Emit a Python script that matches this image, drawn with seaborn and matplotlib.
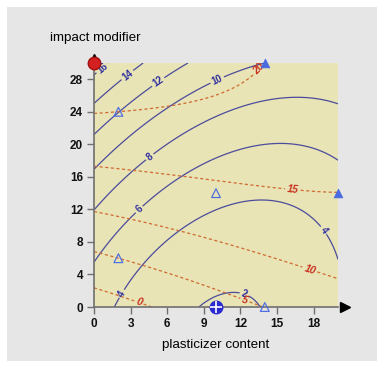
import numpy as np
import matplotlib
matplotlib.use("Agg")
import matplotlib.pyplot as plt
import seaborn as sns

solid_lvl = [16, 16,
             14, 14, 14,
             12, 12, 12, 12,
             10, 10, 10, 10, 10,
             8, 8, 8, 8, 8, 8, 8,
             6, 6, 6, 6, 6, 6, 6,
             4, 4, 4, 4, 4, 4, 4, 4,
             2, 2, 2]
solid_x = [0, 1.4,
           0, 2.8, 4.0,
           0, 2.0, 5.2, 7.7,
           0, 2.5, 7.05, 10.1, 14.0,
           0, 3.2, 4.6, 7.0, 11.1, 16.3, 20,
           0, 1.55, 3.7, 7.05, 11.1, 15.2, 20,
           1.55, 2.2, 6.1, 7.05, 9.8, 13.3, 18.9, 20,
           8.7, 11.4, 13.6]
solid_y = [28.7, 30,
           25.2, 28.4, 30.1,
           21.2, 24.0, 27.8, 30,
           16.9, 20.6, 25.3, 27.9, 30.3,
           11.8, 16.7, 18.4, 20.8, 23.7, 25.6, 24.9,
           5.4, 8.3, 12.0, 16.7, 19.0, 20.2, 18.1,
           0, 1.7, 8.3, 9.3, 12.0, 13.1, 9.5, 5.8,
           0, 1.36, 0]

dash_lvl = [0, 0, 0,
            5, 5, 5, 5,
            10, 10, 10, 10,
            15, 15, 15, 15,
            20, 20, 20, 20, 20, 20]
dash_x = [0, 3.7, 4.7,
          0, 7.5, 12.4, 13.6,
          0, 7.05, 17.7, 20,
          0, 7.05, 16.3, 20,
          0, 2.0, 7.05, 11.1, 13.5, 14.0]
dash_y = [2.3, 0.65, 0,
          6.8, 3.4, 0.95, 0,
          11.8, 9.3, 4.65, 3.5,
          17.3, 16.1, 14.5, 14.0,
          23.8, 24.0, 24.9, 26.8, 29.3, 30.0]

solid_levels = [2, 4, 6, 8, 10, 12, 14, 16]
dash_levels = [0, 5, 10, 15, 20]

# label spots
solid_label_pos = [(0.6, 29.5), (2.8, 28.4), (5.2, 27.8), (10.1, 27.9),
                   (4.6, 18.4), (3.7, 12.0), (2.2, 1.7), (18.9, 9.5), (12.2, 1.1)]
dash_label_pos = [(3.7, 0.65), (12.4, 0.95), (17.7, 4.65), (16.3, 14.5), (13.5, 29.3)]

# design points
open_tri_x = [2, 2, 10, 14]
open_tri_y = [24, 6, 14, 0]
edge_tri_x = [14, 20]
edge_tri_y = [30, 14]


def fit_surface(x, y, z, deg):
    x, y, z = map(np.asarray, (x, y, z))
    terms = [(i, j) for i in range(deg + 1) for j in range(deg + 1 - i)]
    A = np.column_stack([x ** i * y ** j for i, j in terms])
    coef = np.linalg.lstsq(A, z, rcond=None)[0]
    return lambda X, Y: sum(c * X ** i * Y ** j for c, (i, j) in zip(coef, terms))


sns.set_theme(style="white")
plt.rcParams["font.family"] = ["Liberation Sans", "DejaVu Sans"]

fig = plt.figure(figsize=(3.84, 3.68), dpi=100)
fig.patch.set_facecolor("white")
fig.add_artist(plt.Rectangle((7 / 384, 7 / 368), 1 - 14 / 384, 1 - 14 / 368,
                             transform=fig.transFigure, facecolor="#e6e6e6",
                             edgecolor="none", zorder=-10))
ax = fig.add_axes([94 / 384, 1 - 307 / 368, 244 / 384, 244 / 368])
ax.set_facecolor("#e8e4b6")

gx, gy = np.meshgrid(np.linspace(0, 20, 300), np.linspace(0, 30, 300))
f_solid = fit_surface(solid_x, solid_y, solid_lvl, 3)
f_dash = fit_surface(dash_x, dash_y, dash_lvl, 3)

cs = ax.contour(gx, gy, f_solid(gx, gy), levels=solid_levels,
                colors="#4c4c9c", linewidths=0.9)
cd = ax.contour(gx, gy, f_dash(gx, gy), levels=dash_levels,
                colors="#d06a30", linewidths=0.9, linestyles=[(0, (2.5, 2))])
ls = ax.clabel(cs, fmt="%d", manual=solid_label_pos, fontsize=7, inline=True,
               inline_spacing=2, colors="#3030a0")
ld = ax.clabel(cd, fmt="%d", manual=dash_label_pos, fontsize=7.5, inline=True,
               inline_spacing=2, colors="#c8301e")
for t in list(ls) + list(ld):
    t.set_fontweight("bold")
for t in ld:
    t.set_fontstyle("italic")

sns.scatterplot(x=open_tri_x, y=open_tri_y, marker="^", s=40, facecolor="none",
                edgecolor="#5070e0", linewidth=0.9, ax=ax, clip_on=False, zorder=5)
sns.scatterplot(x=edge_tri_x, y=edge_tri_y, marker="^", s=40, color="#4a6ae0",
                edgecolor="#4a6ae0", ax=ax, clip_on=False, zorder=5)
ax.plot([10], [0], marker="o", ms=9, color="#2a2ad0", mec="#2a2ad0",
        clip_on=False, zorder=6)
ax.plot([10], [0], marker="+", ms=8, mew=1.2, color="white", clip_on=False, zorder=7)
ax.plot([0], [30], marker="o", ms=9, color="#d42020", mec="#a01010",
        clip_on=False, zorder=6)

ax.set_xlim(0, 20)
ax.set_ylim(0, 30)
ax.set_xticks(range(0, 19, 3))
ax.set_yticks(range(0, 29, 4))
for s in ["top", "right"]:
    ax.spines[s].set_visible(False)
for s in ["left", "bottom"]:
    ax.spines[s].set_color("#707070")
    ax.spines[s].set_linewidth(1.2)
ax.tick_params(axis="both", length=5, width=1, color="#707070", labelsize=8.5,
               labelcolor="#111111", pad=3, bottom=True, left=True)
for t in ax.get_xticklabels() + ax.get_yticklabels():
    t.set_fontweight("bold")

# axis arrows
ax.plot(1.027, 0, ">", color="black", ms=7, transform=ax.transAxes, clip_on=False)
ax.plot(0, 1.02, "^", color="black", ms=6, transform=ax.transAxes, clip_on=False)

fig.text(50 / 384, 1 - 38 / 368, "impact modifier", fontsize=9.6, va="center",
         ha="left", color="black")
fig.text(216 / 384, 1 - 345 / 368, "plasticizer content", fontsize=9.6,
         va="center", ha="center", color="black")

fig.savefig("out.png", dpi=100)
